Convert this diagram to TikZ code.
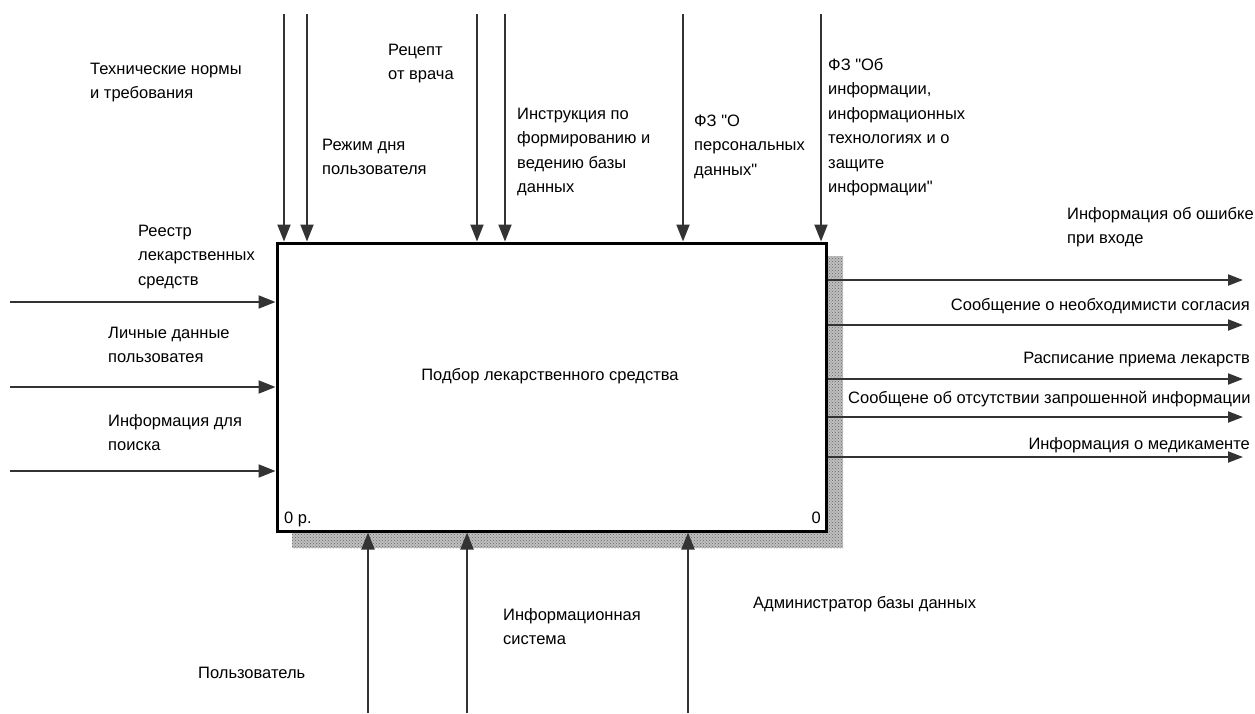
\documentclass[tikz,border=0pt]{standalone}
\usepackage{fontspec}
\setmainfont{Liberation Sans}[Ligatures=TeXOff]
\usetikzlibrary{arrows.meta,patterns}

\begin{document}
\begin{tikzpicture}[x=1pt,y=-1pt,
  lbl/.style={font=\fontsize{16.5}{24.5}\selectfont, inner sep=0pt, align=left, anchor=base west},
  rlbl/.style={lbl, anchor=base east},
  arr/.style={line width=2pt, draw=black!80, -{Triangle[length=17pt,width=13pt]}},
  outarr/.style={line width=2pt, draw=black!80, -{Triangle[length=15pt,width=11pt]}},
  func/.style={draw=black, line width=3pt, fill=white, inner sep=0pt,
    minimum width=549pt, minimum height=288pt}]
\useasboundingbox (0,0) rectangle (1255,713);

% drop shadow of the activity box
\fill[gray!50] (292,256) rectangle (843,548);
\fill[pattern=crosshatch dots, pattern color=gray!80!black] (292,256) rectangle (843,548);

% activity box
\node[func] (main) at (551.5,387) {};
\node[lbl, anchor=base] (title) at (550,380) {Подбор лекарственного средства};
\node[lbl] (num) at (284,523) {0 р.};
\node[rlbl] (num0) at (821,523) {0};

% controls (top); multi-line labels are placed by the baseline of their last line
\coordinate (ct1) at (284,14);
\coordinate (ct2) at (307,14);
\coordinate (ct3) at (477,14);
\coordinate (ct4) at (505,14);
\coordinate (ct5) at (683,14);
\coordinate (ct6) at (821,14);
\foreach \c in {ct1,ct2,ct3,ct4,ct5,ct6}
  \draw[arr] (\c) -- (\c |- main.north);

\node[lbl] (l1) at (90,98.5) {Технические нормы\\и требования};
\node[lbl] (l2) at (322,174.5) {Режим дня\\пользователя};
\node[lbl] (l3) at (388,79.5) {Рецепт\\от врача};
\node[lbl] (l4) at (517,192.5) {Инструкция по\\формированию и\\ведению базы\\данных};
\node[lbl] (l5) at (694,175) {ФЗ "О\\персональных\\данных"};
\node[lbl] (l6) at (828,192.5) {ФЗ "Об\\информации,\\информационных\\технологиях и о\\защите\\информации"};

% inputs (left)
\coordinate (in1) at (10,302);
\coordinate (in2) at (10,387);
\coordinate (in3) at (10,471);
\foreach \c in {in1,in2,in3}
  \draw[arr] (\c) -- (\c -| main.west);

\node[lbl] (i1) at (138,285) {Реестр\\лекарственных\\средств};
\node[lbl] (i2) at (108,362.5) {Личные данные\\пользоватея};
\node[lbl] (i3) at (108,450.5) {Информация для\\поиска};

% outputs (right)
\coordinate (out1) at (1243,280);
\coordinate (out2) at (1243,325);
\coordinate (out3) at (1243,379);
\coordinate (out4) at (1243,417);
\coordinate (out5) at (1243,457);
\foreach \c in {out1,out2,out3,out4,out5}
  \draw[outarr] (\c -| main.east) -- (\c);

\node[lbl] (o1) at (1067,243.5) {Информация об ошибке\\при входе};
\node[rlbl] (o2) at (1250,310) {Сообщение о необходимисти согласия};
\node[rlbl] (o3) at (1250,363) {Расписание приема лекарств};
\node[lbl] (o4) at (848,403) {Сообщене об отсутствии запрошенной информации};
\node[rlbl] (o5) at (1250,449) {Информация о медикаменте};

% mechanisms (bottom)
\coordinate (m1) at (368,713);
\coordinate (m2) at (467,713);
\coordinate (m3) at (688,713);
\foreach \c in {m1,m2,m3}
  \draw[arr] (\c) -- (\c |- main.south);

\node[lbl] (b1) at (198,678) {Пользователь};
\node[lbl] (b2) at (503,644.5) {Информационная\\система};
\node[lbl] (b3) at (753,608) {Администратор базы данных};
\end{tikzpicture}
\end{document}
